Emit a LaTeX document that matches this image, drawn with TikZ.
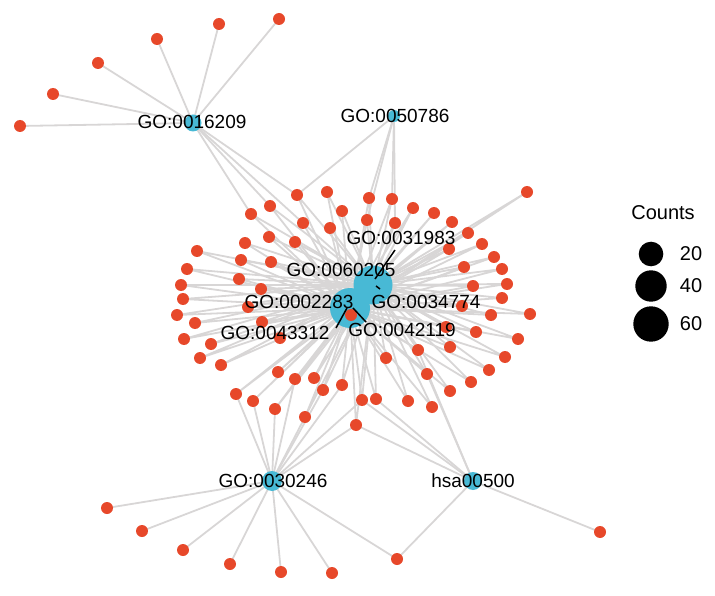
\documentclass[tikz,border=0pt]{standalone}
\usepackage{fontspec}
\setmainfont{Liberation Sans}
\usetikzlibrary{calc}
\definecolor{GeneRed}{RGB}{231,72,42}
\definecolor{TermBlue}{RGB}{72,185,213}
\definecolor{EdgeGray}{RGB}{216,214,214}

\begin{document}
\begin{tikzpicture}[x=1pt, y=-1pt,
	edge/.style={draw=EdgeGray, line width=1.8pt},
	lbl/.style={font=\fontsize{19}{22}\selectfont, inner sep=0pt},
	leg/.style={font=\fontsize{20}{24}\selectfont, inner sep=0pt}]
	\useasboundingbox (0,0) rectangle (715,596);
	% term nodes
	\coordinate (hubA) at (350,308);
	\coordinate (hubB) at (373,285);
	\coordinate (go16209) at (193,123);
	\coordinate (go50786) at (394,116);
	\coordinate (go30246) at (272,481);
	\coordinate (hsa500) at (473,481);
	% gene nodes
	\foreach \n/\x/\y in {1/297/195, 2/327/192, 3/270/206, 4/342/211, 5/251/214,
		6/303/223, 7/330/228, 8/269/237, 9/295/242, 10/245/243, 11/197/251,
		12/241/260, 13/271/262, 14/187/269, 15/239/279, 16/181/285, 17/261/289,
		18/183/299, 19/248/307, 20/177/315, 21/195/323, 22/262/322, 23/184/339,
		24/211/344, 25/280/338, 26/200/358, 27/221/365, 28/278/372, 29/295/379,
		30/314/378, 31/236/394, 32/323/390, 33/342/385, 34/253/401, 35/275/409,
		36/305/417, 37/356/425, 38/351/315, 39/369/198, 40/392/199, 41/527/192,
		42/413/208, 43/434/213, 44/367/220, 45/395/223, 46/452/222, 47/468/233,
		48/482/244, 49/449/249, 50/494/257, 51/464/267, 52/502/269, 53/507/284,
		54/473/286, 55/502/298, 56/462/306, 57/491/315, 58/530/314, 59/446/327,
		60/476/332, 61/518/339, 62/450/347, 63/418/350, 64/505/357, 65/386/358,
		66/489/370, 67/427/374, 68/471/382, 69/450/391, 70/408/401, 71/376/399,
		72/362/400, 73/432/407, 74/279/19, 75/219/24, 76/157/39, 77/98/63,
		78/53/94, 79/20/126, 80/107/508, 81/142/531, 82/183/550, 83/230/564,
		84/281/572, 85/332/573, 86/397/559, 87/600/532}
		\coordinate (g\n) at (\x,\y);
	% edges
	\foreach \n in {1,...,73}
		\draw[edge] (g\n) -- (hubA) (g\n) -- (hubB);
	\foreach \n in {74,...,79,1,3,5,6}
		\draw[edge] (g\n) -- (go16209);
	\foreach \n in {1,39,40,44,45}
		\draw[edge] (g\n) -- (go50786);
	\foreach \n in {80,...,86,29,31,32,33,34,35,36,37,72}
		\draw[edge] (g\n) -- (go30246);
	\foreach \n in {86,87,37,63,67,71,72}
		\draw[edge] (g\n) -- (hsa500);
	% terms
	\fill[TermBlue] (hubA) circle[radius=20pt];
	\fill[TermBlue] (hubB) circle[radius=19.5pt];
	\fill[TermBlue] (go16209) circle[radius=8.5pt];
	\fill[TermBlue] (go50786) circle[radius=6pt];
	\fill[TermBlue] (go30246) circle[radius=10pt];
	\fill[TermBlue] (hsa500) circle[radius=9pt];
	% genes
	\foreach \n in {1,...,87}
		\fill[GeneRed] (g\n) circle[radius=6pt];
	% labels
	\node[lbl] (t16209) at (192,122) {GO:0016209};
	\node[lbl] (t50786) at (395,116) {GO:0050786};
	\node[lbl] (t30246) at (273,481) {GO:0030246};
	\node[lbl] (t500) at (473,481) {hsa00500};
	\node[lbl] (t31983) at (401,238) {GO:0031983};
	\node[lbl] (t60205) at (341,270) {GO:0060205};
	\node[lbl] (t34774) at (426,302) {GO:0034774};
	\node[lbl] (t2283) at (299,302) {GO:0002283};
	\node[lbl] (t43312) at (275,333) {GO:0043312};
	\node[lbl] (t42119) at (402,330) {GO:0042119};
	\draw[line width=1.5pt] (395,250) -- (375,279);
	\draw[line width=1.5pt] (376,286) -- (380,289);
	\draw[line width=1.5pt] (336,328) -- (347,308);
	\draw[line width=1.5pt] (353,308) -- (366,322);
	% legend
	\node[leg] (counts) at (663,213) {Counts};
	\fill (651,254) circle[radius=12.3pt] node[leg, xshift=40pt] (k20) {20};
	\fill (651,286) circle[radius=15.7pt] node[leg, xshift=40pt] (k40) {40};
	\fill (651,324) circle[radius=17.7pt] node[leg, xshift=40pt] (k60) {60};
\end{tikzpicture}
\end{document}
